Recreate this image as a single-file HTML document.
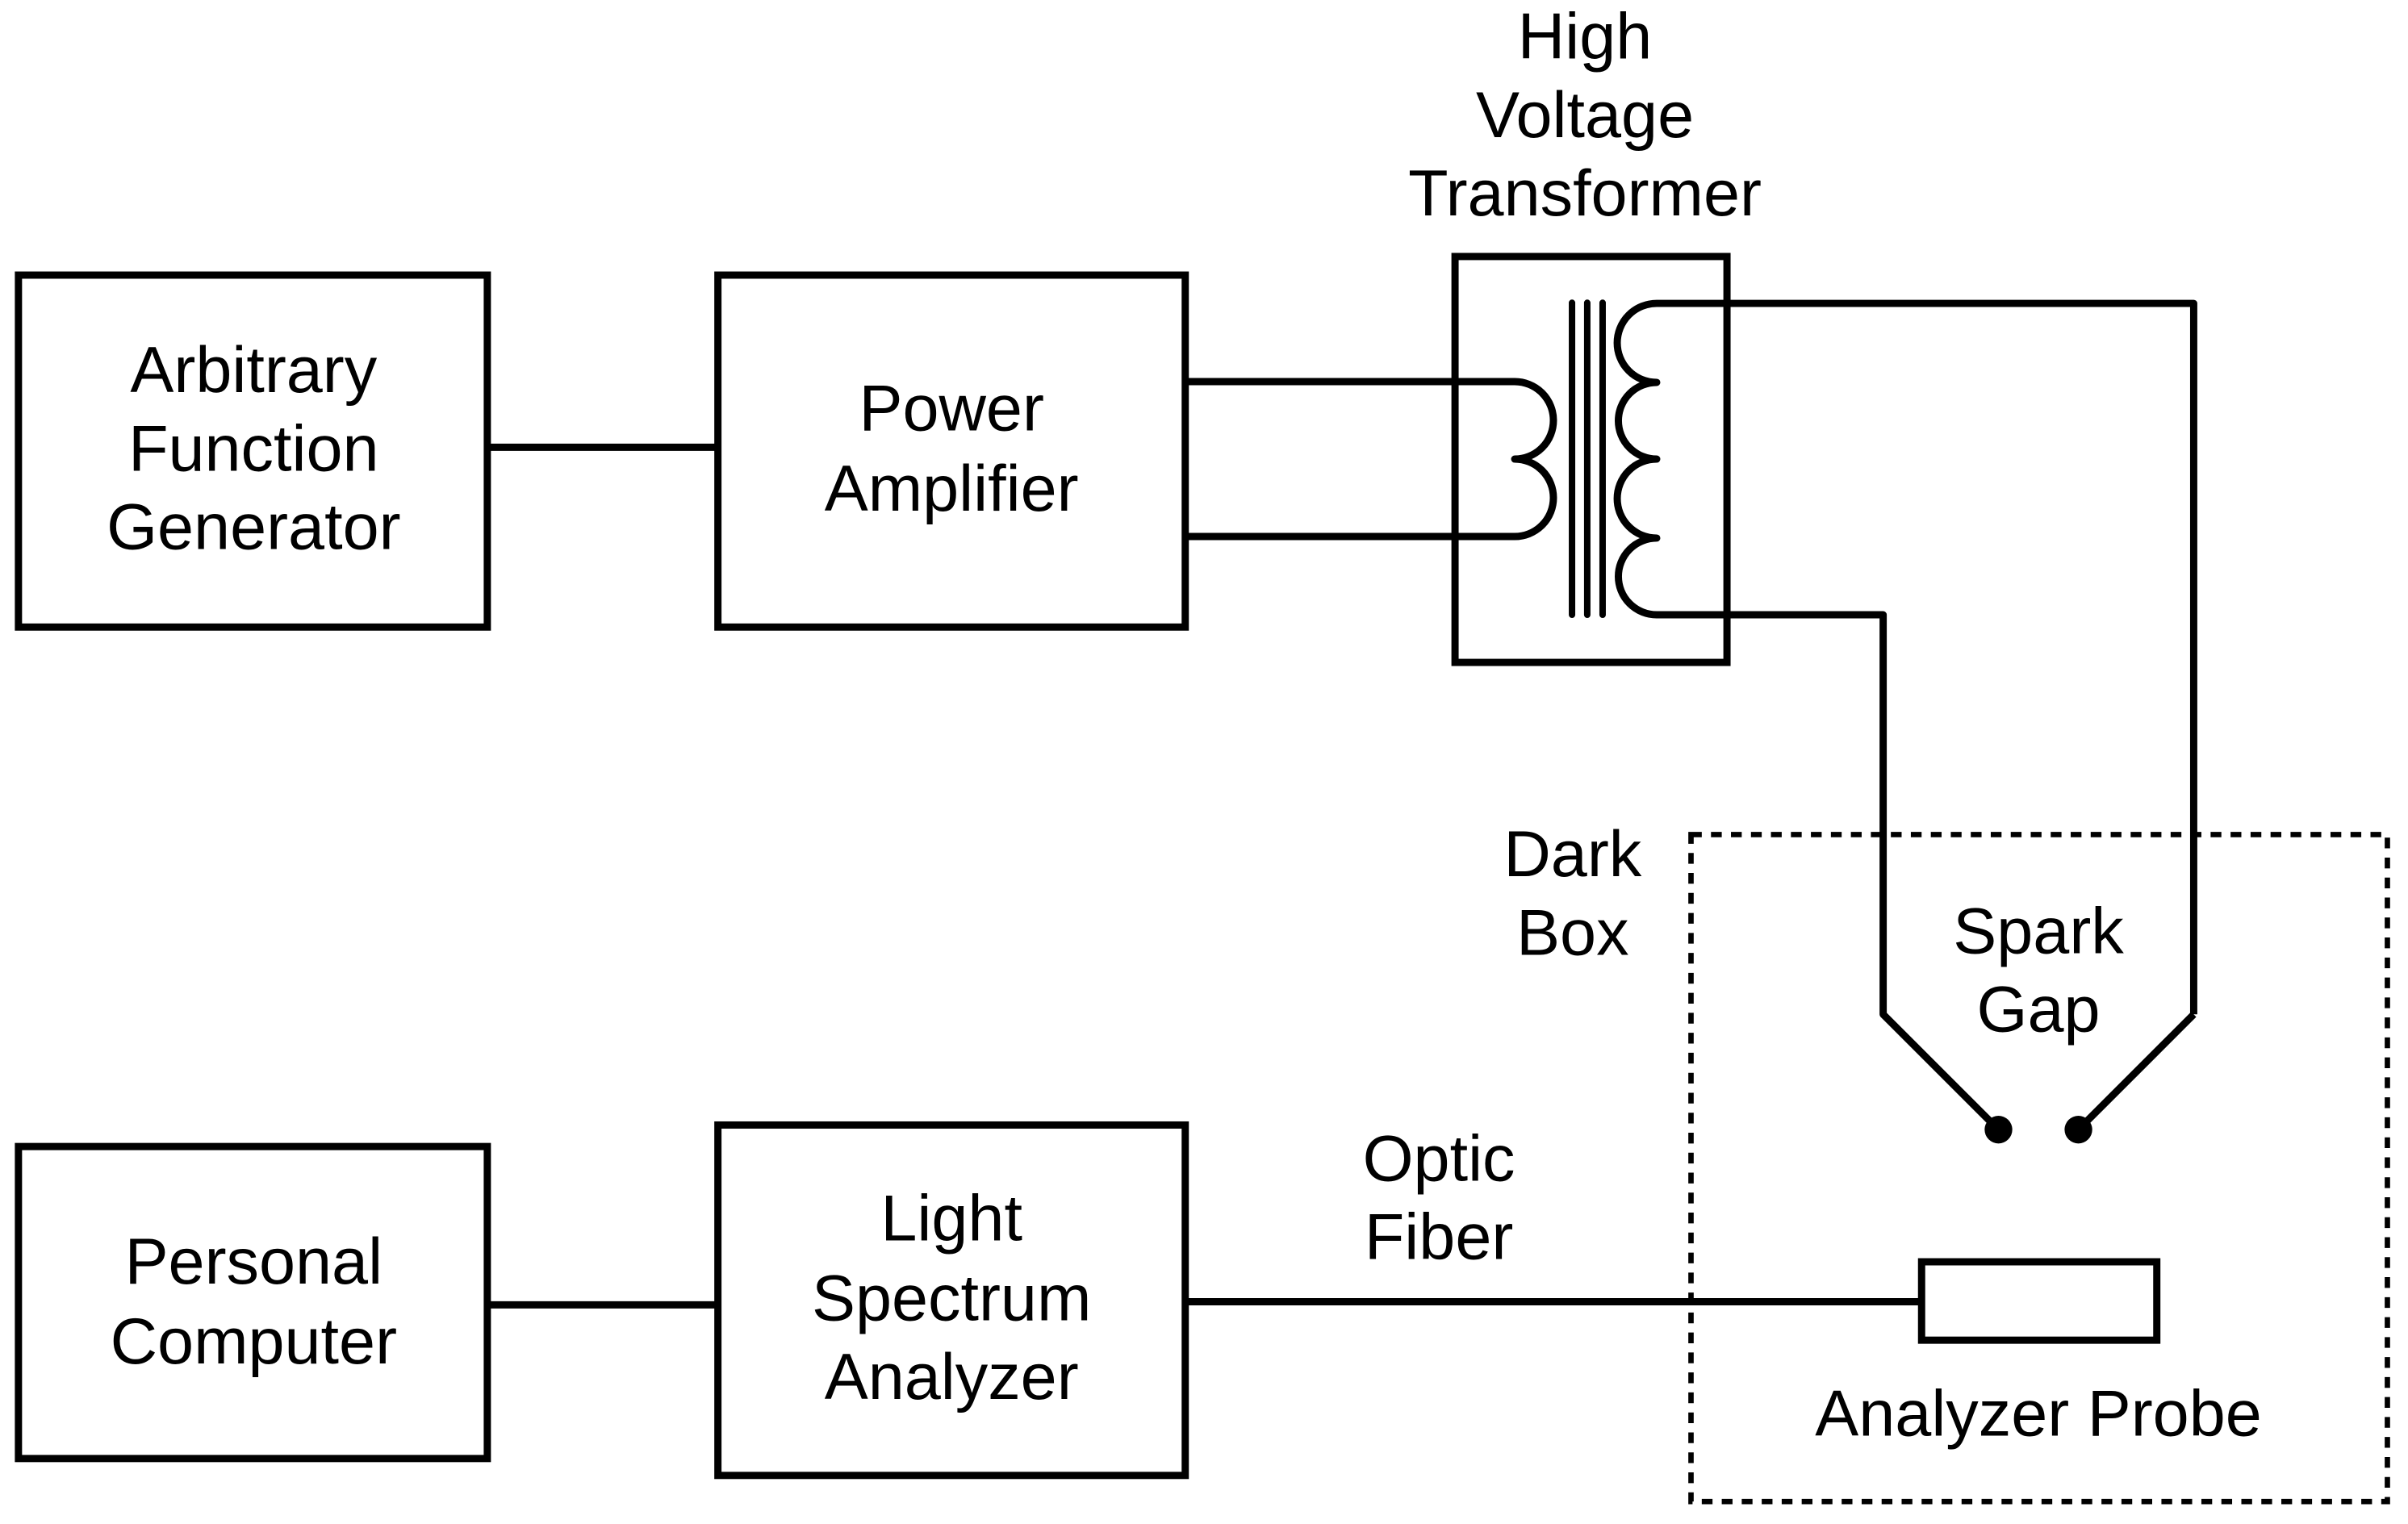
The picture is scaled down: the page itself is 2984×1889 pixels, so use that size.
<!DOCTYPE html>
<html><head><style>html,body{margin:0;padding:0;background:#fff;}svg{display:block;}</style></head>
<body>
<svg width="2984" height="1889" viewBox="0 0 2984 1889" xmlns="http://www.w3.org/2000/svg">
<g transform="scale(1.905)" fill="none" stroke="#000" stroke-width="4.7" font-family="Liberation Sans, Arial, sans-serif">
<rect x="12" y="179" width="305" height="229"/>
<rect x="467" y="179" width="304" height="229"/>
<rect x="12" y="746" width="305" height="203"/>
<rect x="467" y="732" width="304" height="228"/>
<rect x="946.5" y="166.9" width="176.9" height="264.1"/>
<line x1="317" y1="291" x2="467" y2="291"/>
<line x1="317" y1="849" x2="467" y2="849"/>
<line x1="771" y1="847" x2="1250" y2="847"/>
<rect x="1250" y="821" width="153" height="51"/>
<path d="M771 248.3 H985.3 A25.2 25.2 0 0 1 985.3 298.7 A25.2 25.2 0 0 1 985.3 349.1 H771" stroke-linejoin="round"/>
<g stroke-width="4.2" stroke-linecap="round">
<line x1="1022.6" y1="197" x2="1022.6" y2="400"/>
<line x1="1032.5" y1="197" x2="1032.5" y2="400"/>
<line x1="1042.5" y1="197" x2="1042.5" y2="400"/>
</g>
<path d="M1427 660 V197.4 H1077.7 A25.7 25.7 0 0 0 1077.7 248.8 A24.95 24.95 0 0 0 1077.7 298.7 A25.7 25.7 0 0 0 1077.7 350.1 A24.95 24.95 0 0 0 1077.7 400 H1225 V660 L1300 735" stroke-linejoin="round"/>
<path d="M1427 660 L1352 735"/>
<circle cx="1300" cy="735" r="9" fill="#000" stroke="none"/>
<circle cx="1352" cy="735" r="9" fill="#000" stroke="none"/>
<rect x="1100" y="543" width="453" height="434" stroke-width="3.5" stroke-dasharray="7,6"/>
<g fill="#000" stroke="none" font-size="42.5" text-anchor="middle" dominant-baseline="central">
<text x="165" y="241">Arbitrary</text><text x="165" y="292">Function</text><text x="165" y="343">Generator</text>
<text x="619" y="266">Power</text><text x="619" y="318">Amplifier</text>
<text x="1031" y="24">High</text><text x="1031" y="75">Voltage</text><text x="1031" y="126">Transformer</text>
<text x="1023" y="556">Dark</text><text x="1023" y="607">Box</text>
<text x="1326" y="606">Spark</text><text x="1326" y="657">Gap</text>
<text x="936" y="754">Optic</text><text x="936" y="805">Fiber</text>
<text x="1326" y="920">Analyzer Probe</text>
<text x="165" y="821">Personal</text><text x="165" y="873">Computer</text>
<text x="619" y="793">Light</text><text x="619" y="845">Spectrum</text><text x="619" y="896">Analyzer</text>
</g>
</g>
</svg>
</body></html>
